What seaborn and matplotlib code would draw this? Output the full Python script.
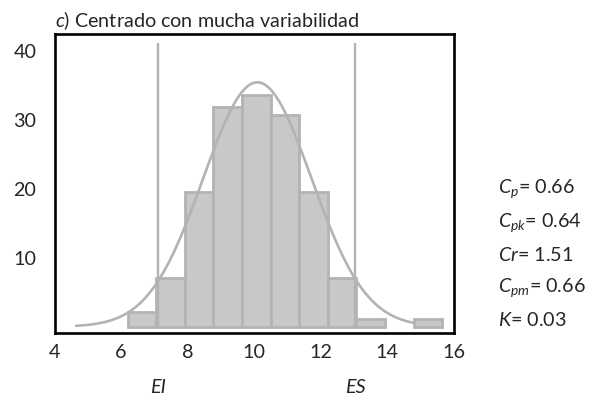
import numpy as np
import pandas as pd
import seaborn as sns
import matplotlib.pyplot as plt

# histogram bins and counts
bin_edges = [6.20, 7.06, 7.92, 8.78, 9.64, 10.50, 11.36, 12.22, 13.08, 13.94, 14.80, 15.66]
counts = [2.1, 7.0, 19.5, 31.8, 33.6, 30.7, 19.5, 7.0, 1.1, 0.0, 1.1]

# specification limits
spec_limits = [7.10, 13.04]
spec_labels = ["EI", "ES"]
spec_top = 41.1

# fitted normal curve (mean, sd, peak height, plotted range)
curve_mean = 10.1
curve_sd = 1.63
curve_peak = 35.4
curve_range = (4.65, 14.8)

x_ticks = [4, 6, 8, 10, 12, 14, 16]
y_ticks = [10, 20, 30, 40]

indices = [r"$C_p$= 0.66", r"$C_{pk}$= 0.64", r"$Cr$= 1.51", r"$C_{pm}$= 0.66", r"$K$= 0.03"]
index_y_px = [189, 223, 255, 288, 320]

title = r"$c$) Centrado con mucha variabilidad"

sns.set_style("white")
plt.rcParams["font.family"] = ["Lato", "DejaVu Sans"]
plt.rcParams["mathtext.fontset"] = "custom"
plt.rcParams["mathtext.rm"] = "Lato"
plt.rcParams["mathtext.it"] = "Lato:italic"

GRAY_FILL = "#c8c8c8"
GRAY_LINE = "#b3b3b3"
FS = 14.2

fig = plt.figure(figsize=(5.94, 4.01), dpi=100)
ax = fig.add_axes([0.0918, 0.1703, 0.6717, 0.7449])

centers = [(a + b) / 2 for a, b in zip(bin_edges[:-1], bin_edges[1:])]
hist_df = pd.DataFrame({"x": centers, "n": counts})

sns.histplot(
    data=hist_df, x="x", weights="n", bins=bin_edges, ax=ax,
    color=GRAY_FILL, edgecolor=GRAY_LINE, linewidth=2.0, alpha=1,
)
# drop the empty bin so no outline is drawn there
for p in list(ax.patches):
    if p.get_height() == 0:
        p.remove()

ax.vlines(spec_limits, 0, spec_top, color=GRAY_LINE, linewidth=1.7, zorder=3)

xs = np.linspace(curve_range[0], curve_range[1], 300)
ys = curve_peak * np.exp(-0.5 * ((xs - curve_mean) / curve_sd) ** 2)
sns.lineplot(x=xs, y=ys, ax=ax, color=GRAY_LINE, linewidth=1.9, zorder=4)

ax.set_xlim(4, 16)
ax.set_ylim(-0.87, 42.4)
ax.set_xticks(x_ticks)
ax.set_yticks(y_ticks)
ax.tick_params(axis="x", length=0, pad=8, labelsize=FS)
ax.tick_params(axis="y", length=0, pad=13, labelsize=FS)
ax.set_xlabel("")
ax.set_ylabel("")
for side in ["left", "right", "top", "bottom"]:
    ax.spines[side].set_visible(True)
    ax.spines[side].set_color("black")
    ax.spines[side].set_linewidth(1.9)

ax.set_title(title, loc="left", fontsize=FS, pad=5)

trans = ax.get_xaxis_transform()
for xv, lab in zip(spec_limits, spec_labels):
    ax.text(xv, -0.185, lab, transform=trans, ha="center", va="center",
            fontsize=FS, style="italic")

for txt, ypx in zip(indices, index_y_px):
    fig.text(498 / 594, 1 - ypx / 401, txt, ha="left", va="center", fontsize=FS)

fig.savefig("out.png", dpi=100)
